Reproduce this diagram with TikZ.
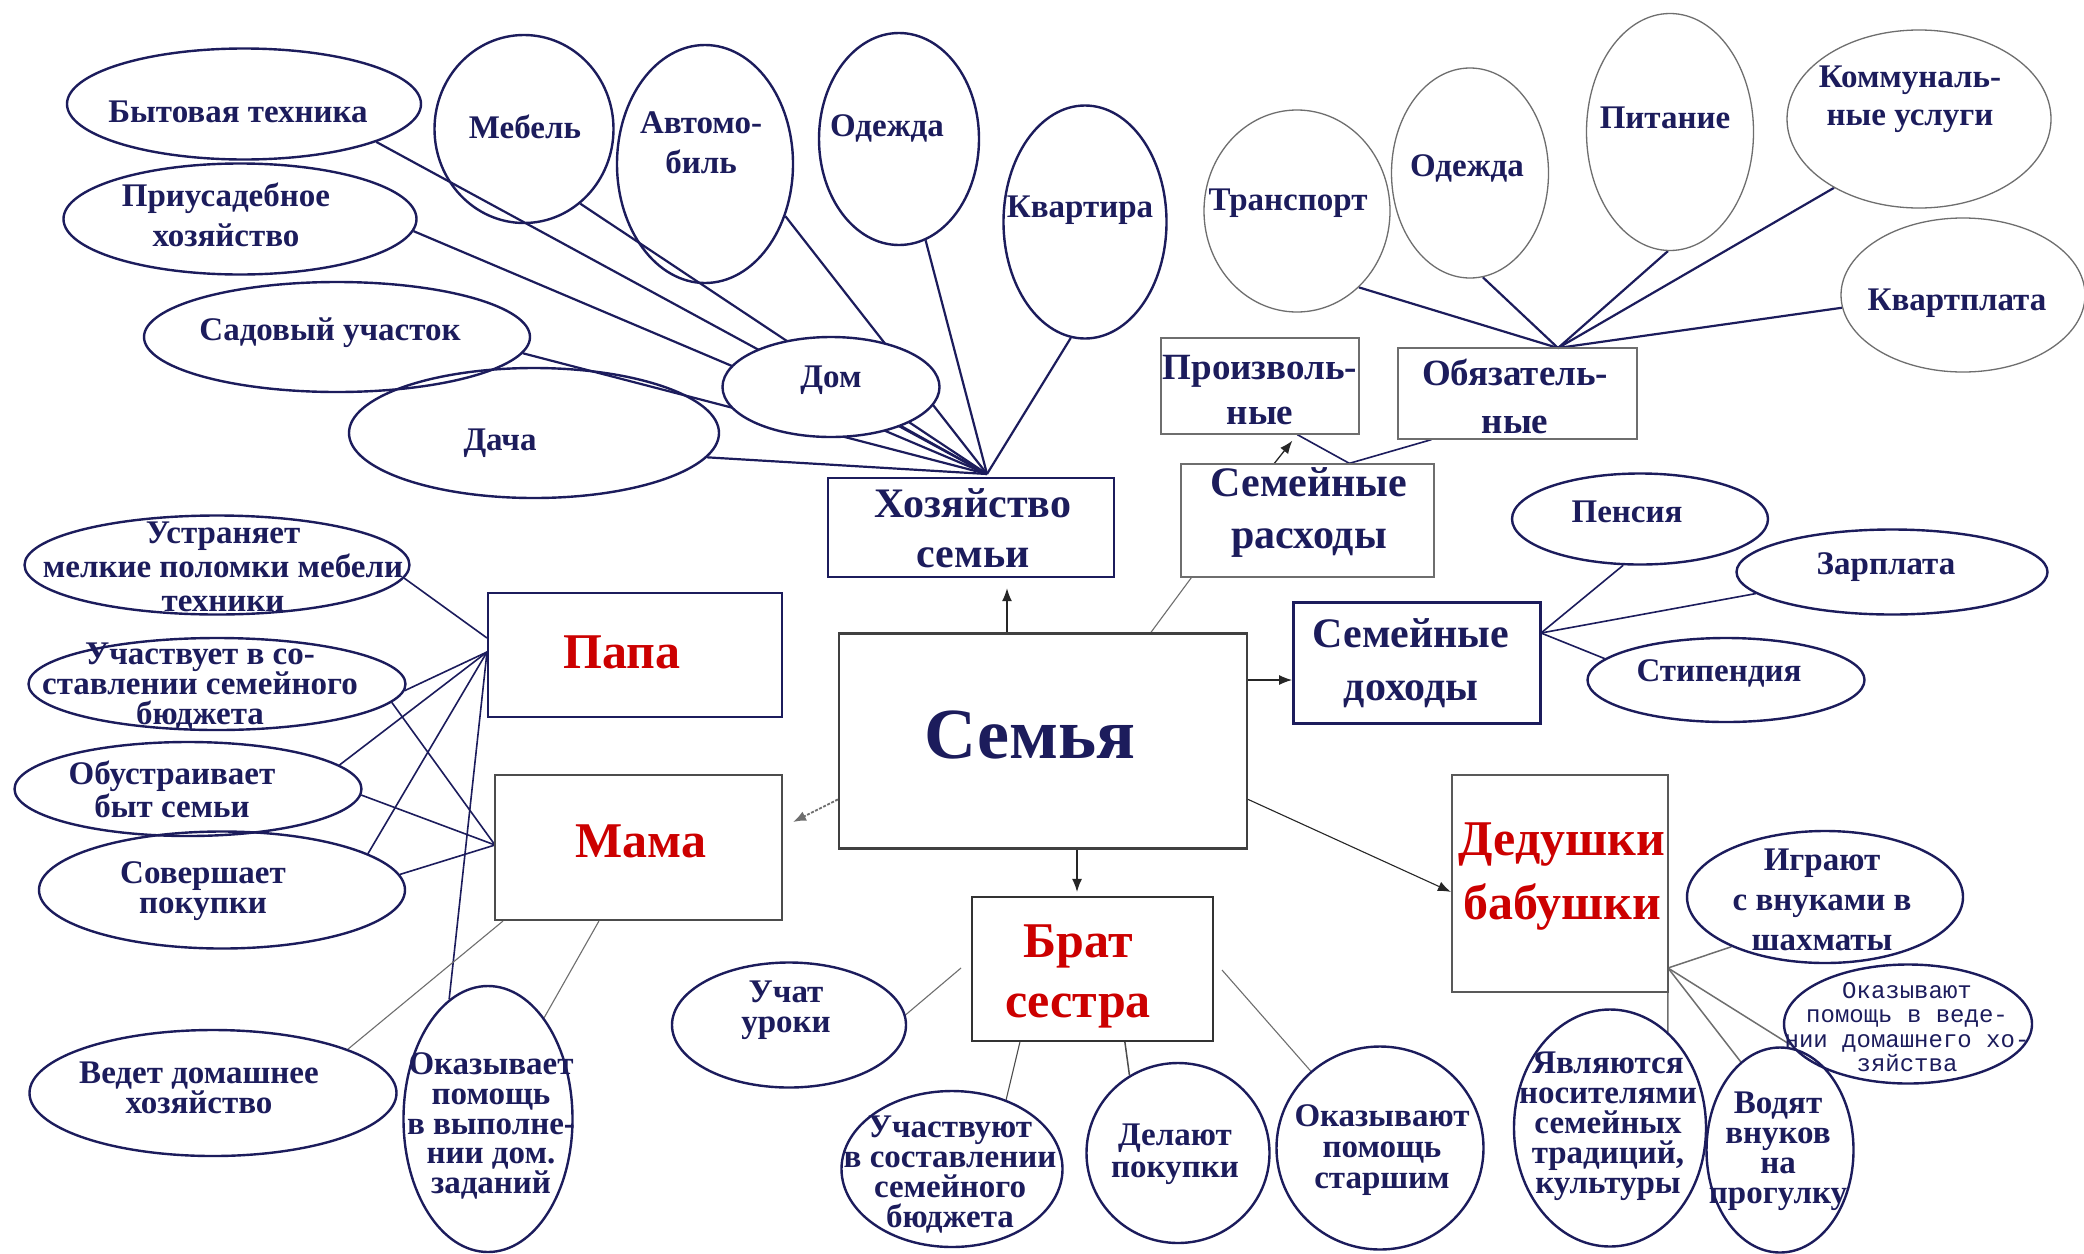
\documentclass[tikz,border=0pt]{standalone}
\usepackage{fontspec}
\setmainfont{Liberation Serif}
\newfontfamily\monof{Liberation Mono}
\usetikzlibrary{shapes.geometric,arrows.meta,backgrounds,calc}
\definecolor{navy}{RGB}{28,28,92}
\definecolor{dred}{RGB}{204,0,0}
\definecolor{gl}{RGB}{110,110,110}
\newcommand\myfs[2]{\fontsize{#1}{#2}\selectfont}
\begin{document}
\begin{tikzpicture}[x=1pt,y=-1pt,
  el/.style={ellipse, draw=navy, line width=2.4pt, inner sep=0pt},
  elt/.style={ellipse, draw=gl, line width=1.3pt, inner sep=0pt},
  sz/.style 2 args={minimum width=#1pt, minimum height=#2pt},
  bx/.style={rectangle, inner sep=0pt},
  tx/.style={text=navy, align=center, inner sep=0pt, font=\bfseries\myfs{33}{#1}},
  tx/.default=34,
  bt/.style={text=navy, align=center, inner sep=0pt, font=\bfseries\myfs{42}{#1}},
  bt/.default=50,
  mt/.style={text=navy, align=center, inner sep=0pt, font=\bfseries\myfs{37}{#1}},
  mt/.default=46,
  rt/.style={text=dred, align=center, inner sep=0pt, font=\bfseries\myfs{50}{#1}},
  rt/.default=60,
  ln/.style={draw=navy, line width=2.2pt},
  ln2/.style={draw=navy, line width=1.6pt},
  lt/.style={draw=gl, line width=1.1pt},
  arr/.style={draw=black!85, line width=1.3pt, -{Latex[length=13pt,width=10pt]}}
]
\useasboundingbox (0,0) rectangle (2084,1253);

% ---------- top-left ellipses
\node[el,sz={354}{111}] (byt) at (244,104) {};
\node[tx] (byt-t) at (238,112) {Бытовая техника};
\node[el,sz={353}{111}] (pri) at (240,219) {};
\node[tx=40] (pri-t) at (226,215) {Приусадебное\\хозяйство};
\node[el,sz={386}{110}] (sad) at (337,337) {};
\node[tx] (sad-t) at (330,333) {Садовый участок};
\node[el,sz={370}{130}] (dach) at (534,433) {};
\node[tx] (dach-t) at (500,443) {Дача};
\node[el,sz={179}{188}] (meb) at (524,129) {};
\node[tx] (meb-t) at (525,127) {Мебель};
\node[el,sz={176}{238}] (avt) at (705,164) {};
\node[tx=40] (avt-t) at (701,143) {Автомо-\\биль};
\node[el,sz={160}{212}] (ode1) at (899,139) {};
\node[tx] (ode1-t) at (887,128) {Одежда};
\node[el,sz={163}{233}] (kva) at (1085,222) {};
\node[tx] (kva-t) at (1080,210) {Квартира};
\node[el,sz={217}{100},fill=white] (dom) at (831,387) {};
\node[tx] (dom-t) at (831,380) {Дом};

% ---------- top-right ellipses
\node[elt,sz={186}{202}] (tra) at (1297,211) {};
\node[tx] (tra-t) at (1288,203) {Транспорт};
\node[elt,sz={157}{210}] (ode2) at (1470,173) {};
\node[tx] (ode2-t) at (1467,168) {Одежда};
\node[elt,sz={167}{237}] (pit) at (1670,132) {};
\node[tx] (pit-t) at (1665,118) {Питание};
\node[elt,sz={264}{178}] (kom) at (1919,119) {};
\node[tx=38] (kom-t) at (1910,99) {Коммуналь-\\ные услуги};
\node[elt,sz={244}{154}] (kvp) at (1963,295) {};
\node[tx] (kvp-t) at (1957,303) {Квартплата};

% ---------- boxes
\node[bx,draw=navy,line width=2.4pt,sz={286}{99}] (hoz) at (971,527.5) {};
\node[bt] (hoz-t) at (973,528) {Хозяйство\\семьи};
\node[bx,draw=black!75,line width=2.2pt,sz={408}{215}] (sem) at (1043,741) {};
\node[text=navy,font=\bfseries\myfs{72}{80},inner sep=0pt] (sem-t) at (1030,735) {Семья};
\node[bx,draw=gl,line width=1.3pt,sz={253}{113}] (ras) at (1307.5,520.5) {};
\node[bt=52] (ras-t) at (1309,513) {Семейные\\расходы};
\node[bx,draw=gl,line width=1.3pt,sz={198}{96}] (prz) at (1260,386) {};
\node[mt=45] (prz-t) at (1260,390) {Произволь-\\ные};
\node[bx,draw=gl,line width=1.3pt,sz={239}{91}] (obz) at (1517.5,393.5) {};
\node[mt=48] (obz-t) at (1515,396) {Обязатель-\\ные};
\node[bx,draw=navy,line width=2.8pt,sz={247}{121}] (doh) at (1417,663) {};
\node[bt=53] (doh-t) at (1411,663) {Семейные\\доходы};
\node[bx,draw=navy,line width=2.4pt,sz={294}{124}] (papa) at (635,655) {};
\node[rt] (papa-t) at (622,652) {Папа};
\node[bx,draw=black!70,line width=2.2pt,sz={287}{145}] (mama) at (638.5,847.5) {};
\node[rt] (mama-t) at (641,841) {Мама};
\node[bx,draw=black!80,line width=2.2pt,sz={241}{144}] (brat) at (1092.5,969) {};
\node[rt=60] (brat-t) at (1078,976) {Брат\\сестра};
\node[bx,draw=black!65,line width=2.2pt,sz={216}{217}] (ded) at (1560,883.5) {};
\node[rt=64] (ded-t) at (1562,877) {Дедушки\\бабушки};

% ---------- incomes
\node[el,sz={256}{91}] (pen) at (1640,519) {};
\node[tx] (pen-t) at (1627,512) {Пенсия};
\node[el,sz={311}{85}] (zar) at (1892,572) {};
\node[tx] (zar-t) at (1886,567) {Зарплата};
\node[el,sz={277}{84}] (sti) at (1726,680) {};
\node[tx] (sti-t) at (1719,673) {Стипендия};

% ---------- left
\node[el,sz={385}{99}] (ust) at (217,565) {};
\node[tx=34] (ust-t) at (223,567) {Устраняет\\мелкие поломки мебели\\техники};
\node[el,sz={377}{92}] (uch) at (217,684) {};
\node[tx=30] (uch-t) at (200,687) {Участвует в со-\\ставлении семейного\\бюджета};
\node[el,sz={347}{94}] (obu) at (188,789) {};
\node[tx=33] (obu-t) at (172,789) {Обустраивает\\быт семьи};
\node[el,sz={366}{117}] (sov) at (222,890) {};
\node[tx=30] (sov-t) at (203,891) {Совершает\\покупки};
\node[el,sz={367}{126}] (ved) at (213,1093) {};
\node[tx=30] (ved-t) at (199,1088) {Ведет домашнее\\хозяйство};
\node[el,sz={169}{266}] (oka) at (488,1119) {};
\node[tx=29.6] (oka-t) at (491,1126) {Оказывает\\помощь\\в выполне-\\нии дом.\\заданий};

% ---------- bottom
\node[el,sz={234}{125}] (uca) at (789,1025) {};
\node[tx=30] (uca-t) at (786,1010) {Учат\\уроки};
\node[el,sz={221}{156}] (ucv) at (952,1169) {};
\node[tx=30] (ucv-t) at (950,1175) {Участвуют\\в составлении\\семейного\\бюджета};
\node[el,sz={183}{180}] (del) at (1178,1153) {};
\node[tx=32] (del-t) at (1175,1154) {Делают\\покупки};
\node[el,sz={207}{203}] (oks) at (1380,1148) {};
\node[tx=31] (oks-t) at (1382,1150) {Оказывают\\помощь\\старшим};
\node[el,sz={276}{132}] (igr) at (1825,897) {};
\node[tx=40] (igr-t) at (1822,900) {Играют\\с внуками в\\шахматы};
\node[el,sz={248}{119}] (okv) at (1908,1024) {};
\node[text=navy,align=center,inner sep=0pt,font=\monof\myfs{24}{24.5}] (okv-t) at (1907,1027) {Оказывают\\помощь в веде-\\нии домашнего хо-\\зяйства};
\node[el,sz={192}{237}] (yav) at (1610,1128) {};
\node[tx=30] (yav-t) at (1608,1126) {Являются\\носителями\\семейных\\традиций,\\культуры};
\node[el,sz={147}{205}] (vod) at (1780,1150) {};
\node[tx=30] (vod-t) at (1778,1151) {Водят\\внуков\\на\\прогулку};

% ---------- coordinates
\coordinate (hub) at (987,474);
\coordinate (hub2) at (1558,348);
\coordinate (hub3) at (1541,633);
\coordinate (hub4) at (1668,968);
\coordinate (pa1) at (487,638);
\coordinate (pa2) at (487,652);
\coordinate (ma1) at (495,845);
\coordinate (bu1) at (961,968);
\coordinate (bo1) at (1222,970);
\coordinate (cx1007) at (1007,0);
\coordinate (cx1077) at (1077,0);
\coordinate (cy680) at (0,680);
\coordinate (mtip) at (793,822);

\begin{scope}[on background layer]
\fill[white] (0,0) rectangle (2084,1253);
% household
\draw[ln] (byt.-16) -- (hub);
\draw[ln] (pri.-4) -- (hub);
\draw[ln] (sad.-5) -- (hub);
\draw[ln] (dach.-8) -- (hub);
\draw[ln] (meb.-53) -- (hub);
\draw[ln] (avt.-33) -- (hub);
\draw[ln] (ode1) -- (hub);
\draw[ln] (kva.-97) -- (hub);
\draw[ln] (dom) -- (hub);
% obligatory expenses
\draw[ln] (tra.-51) -- (hub2);
\draw[ln] (ode2.-83) -- (hub2);
\draw[ln] (pit.-91) -- (hub2);
\draw[ln] (kom.-141) -- (hub2);
\draw[ln] (kvp.-174) -- (hub2);
% expenses
\draw[ln2] ($(ras.north west)+(169,0)$) -- ($(prz.south west)+(137,0)$);
\draw[ln2] ($(ras.north west)+(169,0)$) -- ($(obz.south west)+(34,0)$);
\draw[arr] ($(ras.north west)+(94,0)$) -- ($(prz.south west)+(132,6)$);
\draw[lt] ($(sem.north west)+(313,0)$) -- ($(ras.south west)+(11,0)$);
% family arrows
\draw[arr] (sem.north -| cx1007) -- ($(hoz.south -| cx1007)+(0,10)$);
\draw[arr,draw=gl,dash pattern=on 3pt off 1.5pt,line width=1.8pt] ($(sem.north west)+(0,167)$) -- (mtip);
\draw[arr] (sem.south -| cx1077) -- ($(brat.north -| cx1077)+(0,-4)$);
\draw[arr] (sem.east |- cy680) -- (doh.west |- cy680);
\draw[arr,line width=1.1pt] ($(sem.north east)+(0,167)$) -- ($(ded.north west)+(0,118)$);
% papa / mama
\draw[ln2] (ust.-4) -- (pa1);
\draw[ln2] (uch.-2) -- (pa2);
\draw[ln2] (uch.-6) -- (ma1);
\draw[ln2] (obu.9) -- (pa2);
\draw[ln2] (obu.-2) -- (ma1);
\draw[ln2] (sov.14) -- (pa2);
\draw[ln2] (sov.5) -- (ma1);
\draw[ln2] (oka.108) -- (pa2);
\draw[lt] (oka.61) -- ($(mama.south west)+(105,0)$);
\draw[lt] (ved.18) -- ($(mama.south west)+(9,0)$);
% incomes
\draw[ln2] (pen.-110) -- (hub3);
\draw[ln2] (zar.-171) -- (hub3);
\draw[ln2] (sti.170) -- (hub3);
% grandparents
\draw[lt,line width=1.5pt] (igr.-152) -- (hub4);
\draw[lt,line width=1.5pt] (okv.-170) -- (hub4);
\draw[lt,line width=1.5pt] (vod.114) -- (hub4);
\draw[lt,line width=1.5pt] (yav.59) -- (hub4);
% siblings
\draw[lt] (uca.5) -- (bu1);
\draw[lt,draw=black!70] ($(brat.south west)+(49,0)$) -- (ucv.52);
\draw[lt,draw=black!70,line width=1.5pt] ($(brat.south west)+(154,0)$) -- (del.122);
\draw[lt] (bo1) -- (oks.132);
\end{scope}
\end{tikzpicture}
\end{document}
